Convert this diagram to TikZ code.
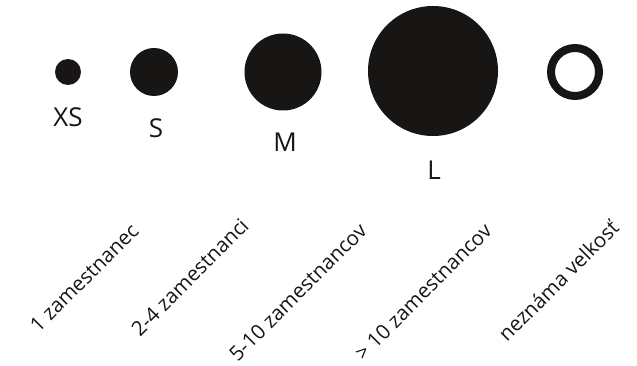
\documentclass[tikz,border=0pt]{standalone}
\usepackage{fontspec}
\setmainfont{Open Sans}
\definecolor{ink}{RGB}{24,22,20}

\begin{document}
\begin{tikzpicture}[x=1pt,y=-1pt]

\tikzset{dot/.style={circle,fill=ink,draw=none,inner sep=0pt,anchor=center}};
\tikzset{ring/.style={circle,draw=ink,line width=8pt,inner sep=0pt,anchor=center}};
\tikzset{sizelabel/.style={text=ink,font=\fontsize{26}{30}\selectfont,inner sep=0pt}};
\tikzset{countlabel/.style={text=ink,font=\fontsize{20.5}{24}\selectfont,inner sep=0pt,rotate=45,anchor=east}};

\useasboundingbox (0,0) rectangle (637,366);

% Draw the size circles
\node[dot,minimum size=26] (xs) at (68,72) {};
\node[dot,minimum size=48] (s) at (154,72) {};
\node[dot,minimum size=77] (m) at (283,72) {};
\node[dot,minimum size=130] (l) at (433,71) {};
\node[ring,minimum size=48] (unknown) at (575,72) {};

% Size names
\node[sizelabel] (xsname) at (68,117) {XS};
\node[sizelabel] (sname) at (156,128) {S};
\node[sizelabel] (mname) at (285,142) {M};
\node[sizelabel] (lname) at (434,170) {L};

% Number of employees
\node[countlabel] (xscount) at (135,227) {1 zamestnanec};
\node[countlabel] (scount) at (245,222) {2-4 zamestnanci};
\node[countlabel] (mcount) at (363,227) {5-10 zamestnancov};
\node[countlabel] (lcount) at (488,227) {> 10 zamestnancov};
\node[countlabel] (unknowncount) at (615,224) {neznáma velkosť};

\end{tikzpicture}
\end{document}
